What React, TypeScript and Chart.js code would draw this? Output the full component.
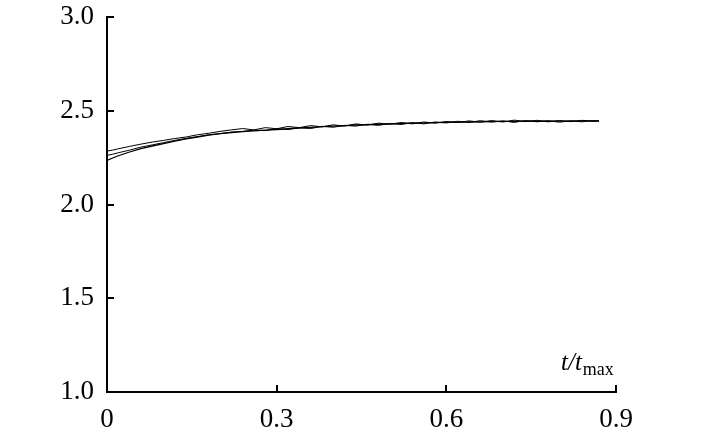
import React, { useEffect, useRef } from "react";
import { Chart, registerables } from "chart.js";

Chart.register(...registerables);

const xValues = [0, 0.01, 0.02, 0.04, 0.06, 0.08, 0.1, 0.12, 0.14, 0.16, 0.18, 0.2, 0.22, 0.24, 0.26, 0.28, 0.3, 0.32, 0.34, 0.36, 0.38, 0.4, 0.42, 0.44, 0.46, 0.48, 0.5, 0.52, 0.54, 0.56, 0.58, 0.6, 0.62, 0.64, 0.66, 0.68, 0.7, 0.72, 0.74, 0.76, 0.78, 0.8, 0.82, 0.84, 0.86, 0.87];

const seriesA = [2.285, 2.29, 2.297, 2.31, 2.322, 2.333, 2.342, 2.352, 2.36, 2.372, 2.38, 2.39, 2.398, 2.405, 2.398, 2.41, 2.404, 2.416, 2.41, 2.421, 2.414, 2.425, 2.418, 2.43, 2.423, 2.434, 2.428, 2.437, 2.43, 2.44, 2.434, 2.443, 2.437, 2.446, 2.439, 2.448, 2.44, 2.45, 2.442, 2.449, 2.441, 2.448, 2.442, 2.449, 2.443, 2.446];

const seriesB = [2.262, 2.268, 2.276, 2.29, 2.306, 2.318, 2.33, 2.342, 2.353, 2.362, 2.372, 2.378, 2.386, 2.39, 2.397, 2.394, 2.404, 2.4, 2.41, 2.405, 2.417, 2.412, 2.422, 2.418, 2.428, 2.422, 2.432, 2.427, 2.437, 2.43, 2.44, 2.435, 2.444, 2.438, 2.447, 2.44, 2.446, 2.438, 2.448, 2.441, 2.447, 2.439, 2.447, 2.441, 2.448, 2.444];

const seriesC = [2.235, 2.248, 2.26, 2.28, 2.298, 2.312, 2.325, 2.338, 2.35, 2.36, 2.37, 2.378, 2.384, 2.389, 2.393, 2.397, 2.4, 2.404, 2.408, 2.411, 2.415, 2.418, 2.421, 2.424, 2.426, 2.428, 2.43, 2.432, 2.434, 2.435, 2.437, 2.438, 2.439, 2.44, 2.441, 2.442, 2.443, 2.443, 2.444, 2.444, 2.445, 2.445, 2.445, 2.446, 2.446, 2.446];

const yTicks = [1.0, 1.5, 2.0, 2.5, 3.0];
const xTicks = [0, 0.3, 0.6, 0.9];

const FONT = "'Liberation Serif', 'Times New Roman', serif";

const inwardTicks = {
  id: "inwardTicks",
  afterDraw(chart: any) {
    const ctx = chart.ctx;
    const xs = chart.scales.x;
    const ys = chart.scales.y;
    const area = chart.chartArea;
    ctx.save();
    ctx.strokeStyle = "#000";
    ctx.lineWidth = 2;
    ctx.beginPath();
    xTicks.forEach((v) => {
      if (v === 0) return;
      const px = Math.round(xs.getPixelForValue(v));
      ctx.moveTo(px, area.bottom);
      ctx.lineTo(px, area.bottom - 7);
    });
    yTicks.forEach((v) => {
      if (v === 1.0) return;
      const py = Math.round(ys.getPixelForValue(v));
      ctx.moveTo(area.left, py);
      ctx.lineTo(area.left + 7, py);
    });
    ctx.stroke();
    // axis title t/t_max
    ctx.fillStyle = "#000";
    ctx.textBaseline = "alphabetic";
    ctx.textAlign = "left";
    const tx = xs.getPixelForValue(0.9) - 55;
    const ty = area.bottom - 22;
    ctx.font = "italic 25px " + FONT;
    ctx.fillText("t/t", tx, ty);
    const w = ctx.measureText("t/t").width;
    ctx.font = "18px " + FONT;
    ctx.fillText("max", tx + w + 1, ty + 5);
    ctx.restore();
  },
};

export default function App() {
  const ref = useRef<HTMLCanvasElement>(null);
  useEffect(() => {
    if (!ref.current) return;
    const mk = (ys: number[]) => xValues.map((x, i) => ({ x, y: ys[i] }));
    const ds = (ys: number[], w: number) => ({
      data: mk(ys),
      showLine: true,
      borderColor: "#000",
      borderWidth: w,
      pointRadius: 0,
      fill: false,
      tension: 0,
    });
    const chart = new Chart(ref.current, {
      type: "scatter",
      data: { datasets: [ds(seriesA, 1), ds(seriesB, 1), ds(seriesC, 1.3)] },
      options: {
        animation: false,
        responsive: false,
        devicePixelRatio: 1,
        layout: { padding: { left: 0, right: 93, top: 17, bottom: 0 } },
        plugins: { legend: { display: false }, tooltip: { enabled: false } },
        scales: {
          x: {
            type: "linear",
            min: 0,
            max: 0.9,
            afterFit: (s: any) => {
              s.height = 41;
              s.paddingLeft = 0;
              s.paddingRight = 0;
              s.paddingTop = 0;
              s.paddingBottom = 0;
            },
            afterBuildTicks: (s: any) => {
              s.ticks = xTicks.map((v) => ({ value: v }));
            },
            grid: { display: false, drawTicks: false },
            border: { display: true, width: 2, color: "#000" },
            ticks: {
              color: "#000",
              padding: 12,
              font: { family: FONT, size: 27 },
              callback: (v: any) => (v === 0 ? "0" : Number(v).toFixed(1)),
            },
          },
          y: {
            type: "linear",
            min: 1,
            max: 3,
            afterFit: (s: any) => {
              s.width = 107;
              s.paddingTop = 0;
              s.paddingBottom = 0;
              s.paddingLeft = 0;
              s.paddingRight = 0;
            },
            afterBuildTicks: (s: any) => {
              s.ticks = yTicks.map((v) => ({ value: v }));
            },
            grid: { display: false, drawTicks: false },
            border: { display: true, width: 2, color: "#000" },
            ticks: {
              color: "#000",
              padding: 13,
              font: { family: FONT, size: 27 },
              callback: (v: any) => Number(v).toFixed(1),
            },
          },
        },
      },
      plugins: [inwardTicks],
    });
    return () => chart.destroy();
  }, []);
  return (
    <div style={{ position: "absolute", left: 0, top: 0, width: 709, height: 433, background: "#fff" }}>
      <canvas ref={ref} width={709} height={433} />
    </div>
  );
}
